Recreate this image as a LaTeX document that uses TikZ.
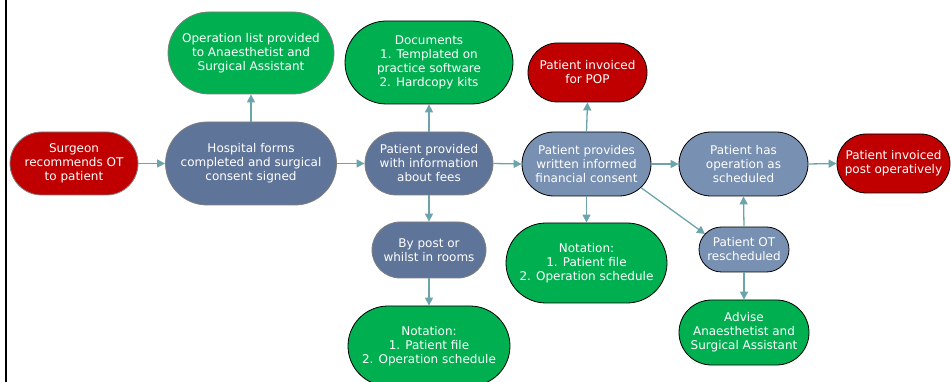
\documentclass[tikz,border=0pt]{standalone}
\usepackage{fontspec}
\setmainfont{DejaVu Sans}
\usetikzlibrary{arrows.meta,calc}
\definecolor{rdfill}{HTML}{C00000}
\definecolor{grfill}{HTML}{00B050}
\definecolor{dkfill}{HTML}{5F7499}
\definecolor{ltfill}{HTML}{7890B1}
\definecolor{conncol}{HTML}{6BA4AA}
\definecolor{grayline}{HTML}{7F7F7F}
\begin{document}
\begin{tikzpicture}[x=1pt,y=-1pt,
  pill/.style n args={3}{draw, line width=0.8pt, text=white, align=center, inner sep=0pt,
    minimum width=#1, minimum height=#2, rounded corners=#3,
    font=\fontsize{12}{14}\selectfont},
  redbox/.style={fill=rdfill},
  greenbox/.style={fill=grfill},
  darkbox/.style={fill=dkfill},
  lightbox/.style={fill=ltfill},
  grayedge/.style={draw=grayline},
  blackedge/.style={draw=black},
  conn/.style={draw=conncol, line width=1.3pt, -{Triangle[length=8pt,width=8pt]}}
]
\useasboundingbox (0,0) rectangle (951,382);
\clip (0,0) rectangle (951,382);
\draw[line width=2.3pt] (6.3,0) -- (6.3,382);

\node[pill={128pt}{63pt}{31.5pt}, redbox, grayedge] (sur) at (74,163.5) {Surgeon\\recommends OT\\to patient};
\node[pill={171pt}{83pt}{41.5pt}, darkbox, grayedge] (hos) at (251,163.5) {Hospital forms\\completed and surgical\\consent signed};
\node[pill={166pt}{82pt}{41pt}, greenbox, grayedge] (ops) at (251,53) {Operation list provided\\to Anaesthetist and\\Surgical Assistant};
\node[pill={128pt}{63pt}{31.5pt}, darkbox, grayedge] (ppi) at (429,163.5) {Patient provided\\with information\\about fees};
\node[pill={168pt}{83pt}{41.5pt}, greenbox, blackedge] (doc) at (429,62.5) {Documents\\1. Templated on\\practice software\\2. Hardcopy kits};
\node[pill={114pt}{56pt}{28pt}, darkbox, grayedge] (post) at (429,250) {By post or\\whilst in rooms};
\node[pill={162pt}{80pt}{40pt}, greenbox, blackedge] (nota) at (429,346) {Notation:\\1. Patient file\\2. Operation schedule};
\node[pill={129pt}{64pt}{32pt}, lightbox, blackedge] (wr) at (586.5,164) {Patient provides\\written informed\\financial consent};
\node[pill={119pt}{59pt}{29.5pt}, redbox, blackedge] (pop) at (587.5,72.5) {Patient invoiced\\for POP};
\node[pill={161pt}{80pt}{40pt}, greenbox, blackedge] (notb) at (586.5,263) {Notation:\\1. Patient file\\2. Operation schedule};
\node[pill={129pt}{64pt}{32pt}, lightbox, blackedge] (has) at (743.5,164) {Patient has\\operation as\\scheduled};
\node[pill={113pt}{59pt}{29.5pt}, redbox, blackedge] (inv) at (893.5,163.5) {Patient invoiced\\post operatively};
\node[pill={90pt}{45pt}{22.5pt}, lightbox, blackedge] (res) at (744,249.5) {Patient OT\\rescheduled};
\node[pill={130pt}{65pt}{32.5pt}, greenbox, blackedge] (adv) at (744,332.5) {Advise\\Anaesthetist and\\Surgical Assistant};

\draw[conn] (sur.east) -- (hos.west);
\draw[conn] (hos.north) -- (ops.south);
\draw[conn] (hos.east) -- (ppi.west);
\draw[conn] (ppi.north) -- (doc.south);
\draw[conn] (ppi.south) -- (post.north);
\draw[conn] (post.south) -- (nota.north);
\draw[conn] (ppi.east) -- (wr.west);
\draw[conn] (wr.north) -- (pop.south);
\draw[conn] (wr.south) -- (notb.north);
\draw[conn] (wr.east) -- (has.west);
\draw[conn] ($(wr.center)+(55,24)$) -- ($(res.center)+(-39,-15.5)$);
\draw[conn] (res.north) -- (has.south);
\draw[conn] (res.south) -- (adv.north);
\draw[conn] (has.east) -- (inv.west);
\end{tikzpicture}
\end{document}
